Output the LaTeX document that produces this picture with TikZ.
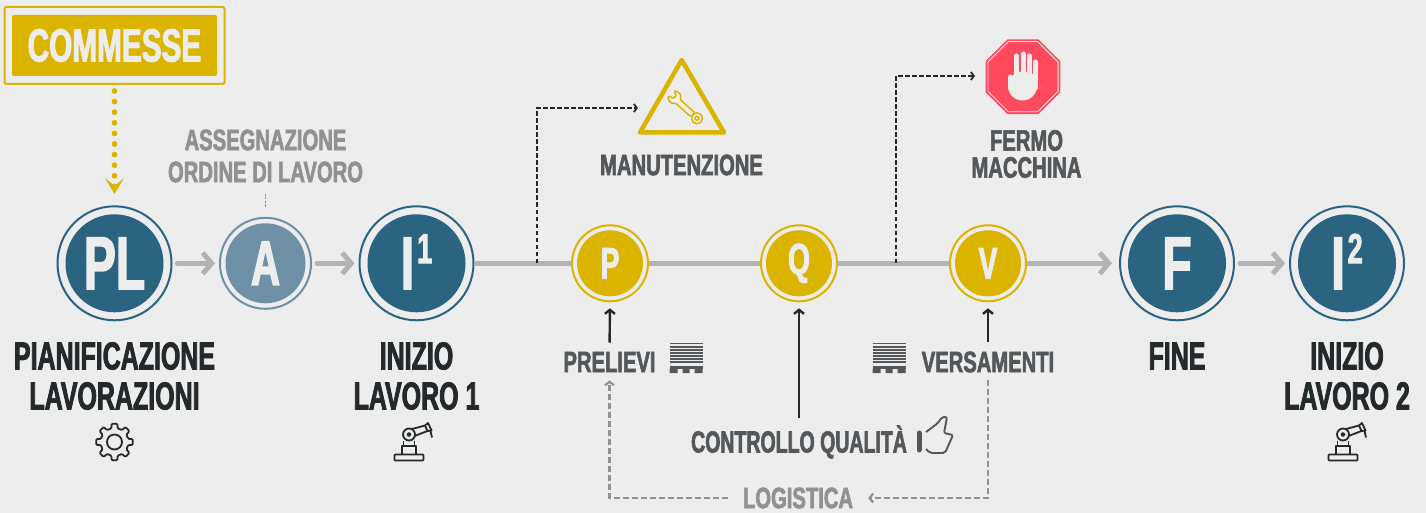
\documentclass[tikz,border=0pt]{standalone}
\usepackage{fontspec}
\usetikzlibrary{arrows.meta,shapes.geometric}
\newfontfamily\dinfont[FakeStretch=0.64,FakeBold=2,UprightFont=* Bold,BoldFont=* Bold]{Liberation Sans}
\newfontfamily\dinmid[FakeStretch=0.685,FakeBold=2,UprightFont=* Bold,BoldFont=* Bold]{Liberation Sans}
\newcommand{\labfont}[2]{\dinfont\fontsize{#1}{#2}\selectfont}
\newcommand{\midfont}[2]{\dinmid\fontsize{#1}{#2}\selectfont}
\definecolor{pagebg}{HTML}{EDEDED}
\definecolor{stepblue}{HTML}{2A6480}
\definecolor{stepfade}{HTML}{6E91A5}
\definecolor{stepgold}{HTML}{DBB400}
\definecolor{stopred}{HTML}{FF4A5E}
\definecolor{inkdark}{HTML}{24292C}
\definecolor{inkmid}{HTML}{54585B}
\definecolor{inkfade}{HTML}{8F9193}
\definecolor{flowgrey}{HTML}{B3B3B3}
\begin{document}
\begin{tikzpicture}[x=1pt, y=-1pt]

	\tikzset{
		ring/.style={circle, inner sep=0pt, fill=pagebg, line width=2pt},
		bigring/.style={ring, draw=stepblue, minimum size=114pt},
		fadering/.style={ring, draw=stepfade, minimum size=91pt},
		goldring/.style={ring, draw=stepgold, minimum size=76pt},
		core/.style={circle, inner sep=0pt, text=pagebg},
		bigcore/.style={core, fill=stepblue, minimum size=98pt, font=\labfont{75}{75}},
		fadecore/.style={core, fill=stepfade, minimum size=80pt, font=\labfont{63}{63}},
		goldcore/.style={core, fill=stepgold, minimum size=66pt, font=\labfont{44}{44}},
		biglab/.style={inner sep=0pt, align=center, text=inkdark, font=\labfont{39}{40}},
		midlab/.style={inner sep=0pt, align=center, text=inkmid, font=\midfont{29.5}{27}},
		fadelab/.style={inner sep=0pt, align=center, text=inkfade, font=\midfont{29.5}{32}},
		flow/.style={draw=flowgrey, line width=5pt, line cap=round, -{Straight Barb[length=9pt,width=21pt]}},
		mainline/.style={draw=flowgrey, line width=5pt},
		dashlink/.style={draw=inkdark, line width=1.8pt, dash pattern=on 4.5pt off 2.5pt, -{Straight Barb[length=3pt,width=8pt]}},
		logilink/.style={draw=inkfade, line width=2.2pt, dash pattern=on 6pt off 3pt, -{Straight Barb[length=3.5pt,width=9pt]}},
		uplink/.style={draw=inkdark, line width=2.4pt, -{Straight Barb[length=4pt,width=10pt]}},
		iconline/.style={draw=inkdark, line width=1.8pt, line join=round},
		wrenchline/.style={draw=stepgold, line width=1.5pt, line join=round}
	}

	% ---------------------------
	% Helper macro: ring with a filled core inside
	% (#1 name, #2 x, #3 y, #4 ring style, #5 core style, #6 text)
	% ---------------------------
	\newcommand{\drawstep}[6]{%
		\node[#4] (#1) at (#2,#3) {};
		\node[#5] (#1-core) at (#1) {#6};
	}
	% number beside the I of a step
	\newcommand{\stepnum}[1]{\hspace{3pt}\smash{\raisebox{26pt}{\labfont{42}{42}#1}}}
	% robot arm, #1 x of the joint
	\newcommand{\drawrobot}[1]{%
		\begin{scope}[shift={(#1,435)}]
			\draw[iconline, rounded corners=0.8pt] (-14.5,19.5) rectangle (14.5,25.5);
			\draw[iconline] (-7,19.5) -- (-7,11) -- (7,11) -- (7,19.5);
			\draw[iconline] (-5.5,11) -- (-5.5,5.5) (5.5,11) -- (5.5,5.5);
			\draw[iconline] (0,-0.5) circle (6);
			\draw[iconline] (0,-0.5) circle (1.6);
			\draw[iconline] (3,-6) -- (16,-9.5) -- (18.5,-4) -- (5.5,1);
			\draw[iconline] (16,-9.5) -- (19,-12) -- (22.5,-4.5) -- (18.5,-4);
			\draw[iconline] (21.5,-4) -- (23,2.5);
		\end{scope}
	}
	% stack of boards on a pallet, #1 left x
	\newcommand{\drawpallet}[1]{%
		\begin{scope}[shift={(#1,0)}]
			\foreach \y in {343.5,346.6,...,364} {
				\draw[draw=inkmid, line width=1.8pt] (0,\y) -- (33,\y);
			}
			\fill[inkmid] (0,366) rectangle (33,369);
			\fill[inkmid] (0,369) rectangle (8,373) (13,369) rectangle (20,373) (25,369) rectangle (33,373);
		\end{scope}
	}

	\useasboundingbox (0,0) rectangle (1426,513);
	\fill[pagebg] (0,0) rectangle (1426,513);

	% ---------------------------
	% Steps on the main line
	% ---------------------------
	\drawstep{PL}{114.5}{263.3}{bigring}{bigcore}{PL}
	\drawstep{A}{265.5}{263.3}{fadering}{fadecore}{A}
	\drawstep{I1}{416.5}{263.3}{bigring}{bigcore}{I\stepnum{1}}
	\drawstep{P}{610}{263.3}{goldring}{goldcore}{P}
	\drawstep{Q}{799}{263.3}{goldring}{goldcore}{Q}
	\drawstep{V}{988}{263.3}{goldring}{goldcore}{V}
	\drawstep{F}{1177}{263.3}{bigring}{bigcore}{F}
	\drawstep{I2}{1347}{263.3}{bigring}{bigcore}{I\stepnum{2}}

	\draw[flow, shorten <=5pt, shorten >=4pt] (PL) -- (A);
	\draw[flow, shorten <=5pt, shorten >=4pt] (A) -- (I1);
	\draw[mainline] (I1) -- (P);
	\draw[mainline] (P) -- (Q);
	\draw[mainline] (Q) -- (V);
	\draw[flow, line cap=butt, shorten >=7pt] (V) -- (F);
	\draw[flow, shorten <=5pt, shorten >=4pt] (F) -- (I2);

	% ---------------------------
	% Commesse box
	% ---------------------------
	\node[draw=stepgold, line width=2pt, rounded corners=2pt, fill=pagebg, minimum width=220pt, minimum height=77pt, inner sep=0pt] (box) at (114.5,45.5) {};
	\node[fill=stepgold, rounded corners=2pt, minimum width=205pt, minimum height=61pt, inner sep=0pt, text=pagebg, font=\labfont{46.5}{46.5}] (box-core) at (box) {COMMESSE};
	\coordinate (pl-in) at (114.5,194);
	\draw[draw=stepgold, line width=5.8pt, line cap=round, dash pattern=on 0pt off 10.6pt, shorten <=6pt, -{Stealth[length=16pt,width=19pt,inset=8pt]}] (box.south) -- (pl-in);

	% ---------------------------
	% Labels
	% ---------------------------
	\node[fadelab] (assegna) at (265.5,156) {ASSEGNAZIONE\\ORDINE DI LAVORO};
	\coordinate (a-top) at (265.5,208);
	\draw[draw=inkfade, line width=0.7pt, dash pattern=on 2pt off 1.5pt] (265.5,194) -- (a-top);

	\node[biglab] (pl-lab) at (114.5,376) {PIANIFICAZIONE\\LAVORAZIONI};
	\node[biglab] (i1-lab) at (416.5,376) {INIZIO\\LAVORO 1};
	\node[biglab] (f-lab) at (1177,356) {FINE};
	\node[biglab] (i2-lab) at (1347,376) {INIZIO\\LAVORO 2};

	\node[midlab] (mt-lab) at (681.5,165) {MANUTENZIONE};
	\node[midlab] (fm-lab) at (1026.5,154) {FERMO\\MACCHINA};
	\node[midlab] (prelievi) at (609.5,362) {PRELIEVI};
	\node[midlab] (versamenti) at (988,362) {VERSAMENTI};
	\node[midlab, font=\labfont{30.5}{27}] (qualita) at (799,442) {CONTROLLO QUALITÀ};
	\node[fadelab] (logistica) at (798,498) {LOGISTICA};

	% ---------------------------
	% Links
	% ---------------------------
	\draw[uplink, shorten <=9pt, shorten >=6pt] (prelievi.north) -- (P.south);
	\draw[uplink, shorten <=9pt, shorten >=6pt] (versamenti.north) -- (V.south);
	\draw[uplink, shorten <=7pt, shorten >=6pt] (qualita.north) -- (Q.south);
	\draw[logilink, shorten <=7pt, shorten >=15pt] (versamenti.south) |- (logistica.east);
	\draw[logilink, shorten <=15pt, shorten >=8pt] (logistica.west) -| (prelievi.south);

	\coordinate (mt-from) at (537,263);
	\coordinate (mt-to) at (638,108);
	\coordinate (fm-from) at (896,263);
	\coordinate (fm-to) at (975,76);
	\draw[dashlink] (mt-from) |- (mt-to);
	\draw[dashlink] (fm-from) |- (fm-to);

	% ---------------------------
	% Icons
	% ---------------------------
	% gear
	\begin{scope}[shift={(114.5,442)}]
		\draw[iconline, rounded corners=1pt] (-13:14) \foreach \a in {0,45,...,315} {
			-- ({\a-13}:14) -- ({\a-9}:18.5) -- ({\a+9}:18.5) -- ({\a+13}:14)
		} -- cycle;
		\draw[iconline] (0,0) circle (7.5);
	\end{scope}
	\drawrobot{409}
	\drawrobot{1343}
	\drawpallet{669.5}
	\drawpallet{872.5}

	% warning triangle with wrench
	\draw[draw=stepgold, line width=4.5pt, line join=round] (681.7,60) -- (724,132.5) -- (640,132.5) -- cycle;
	\draw[wrenchline, rounded corners=1pt] (675,90.5) -- (680.5,94) -- (680.5,100) -- (695,113) -- (690.5,116.5) -- (676,103.5) -- (670.5,103) -- (667.5,97.5) -- (669.5,96) -- (673,98.5) -- (676.5,95.5) -- (674,92) -- cycle;
	\draw[wrenchline, fill=pagebg] (697,118.3) circle (5.5);
	\draw[wrenchline] (697,118.3) circle (2);

	% stop sign with hand
	\node[regular polygon, regular polygon sides=8, fill=stopred, minimum size=81pt, inner sep=0pt] (stop) at (1023,76.7) {};
	\node[regular polygon, regular polygon sides=8, draw=pagebg, line width=0.8pt, minimum size=76pt, inner sep=0pt] (stop-in) at (stop) {};
	\foreach \x/\y in {1016/56,1023/54,1029.3/56,1035/62,1010.5/77} {
		\draw[draw=pagebg, line width=5pt, line cap=round] (\x,\y) -- (\x,88);
	}
	\fill[pagebg] (1022.5,86) ellipse (14.5 and 14.5);
	\fill[pagebg] (1013.5,74) rectangle (1037.5,86);

	% thumb up
	\draw[draw=inkmid, line width=5pt, line cap=round] (919,433) -- (919,450);
	\draw[draw=inkmid, line width=1.9pt, rounded corners=2pt] (926,432) -- (938,423) -- (942,417) -- (947,417) -- (944,433) -- (953,435) -- (945,453) -- (930,453) -- (926,449);

\end{tikzpicture}
\end{document}
